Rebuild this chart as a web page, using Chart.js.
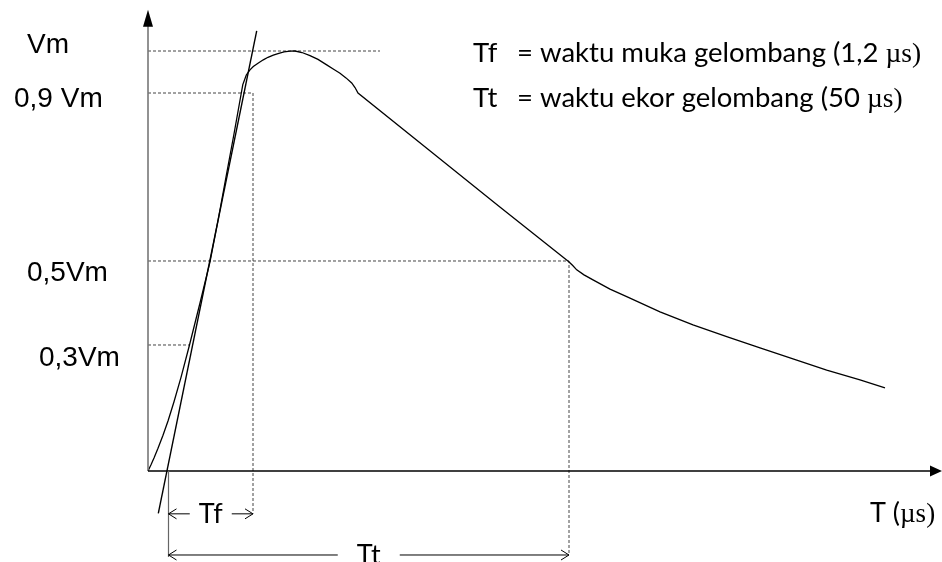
<!DOCTYPE html>
<html>
<head>
<meta charset="utf-8">
<script src="https://cdn.jsdelivr.net/npm/chart.js@4.4.1/dist/chart.umd.min.js"></script>
<style>
  body { margin: 0; background: #fff; }
  canvas { display: block; }
</style>
</head>
<body>
<canvas id="chartImpulse" width="942" height="562"></canvas>
<script>
// Bentuk gelombang impuls (sumbu waktu skematis, tegangan dalam satuan Vm)
const waveT = [0, 0.3, 0.6, 1.0, 1.5, 2.0, 2.6, 3.3, 4.15, 5.2, 6.2, 7.03, 7.8, 8.58, 9.33, 9.48, 9.83,
    10.2, 10.53, 11.0, 11.53, 12.0, 12.53, 13.0, 13.6, 14.2, 14.7, 15.4, 16.2, 17.0, 17.87, 18.6,
    19.2, 19.8, 20.37, 20.7, 21.0, 28.0, 35.0, 42.05,
    42.45, 42.87, 43.6, 44.5, 46.2, 47.87, 51.2, 54.5, 57.87, 61.2, 64.5, 67.87, 71.2, 73.7];
const waveV = [0, 0.015, 0.031, 0.054, 0.085, 0.119, 0.165, 0.223, 0.300, 0.400, 0.498, 0.600, 0.700, 0.800, 0.900, 0.920, 0.943,
    0.955, 0.963, 0.971, 0.979, 0.985, 0.990, 0.994, 0.998, 0.9995, 1.000, 0.9964, 0.989, 0.980, 0.967, 0.956,
    0.947, 0.936, 0.924, 0.913, 0.900, 0.766, 0.632, 0.499,
    0.490, 0.479, 0.467, 0.455, 0.433, 0.415, 0.379, 0.348, 0.320, 0.293, 0.267, 0.240, 0.217, 0.198];

// Garis singgung muka gelombang
const tangentT = [1.03, 10.87];
const tangentV = [-0.101, 1.048];

// Level tegangan acuan
const levels = [1.0, 0.9, 0.5, 0.3];
const levelLabels = ["Vm", "0,9 Vm", "0,5Vm", "0,3Vm"];
const levelEndT = [23.2, 10.5, 42.1, 4.15];

// Titik waktu untuk Tf dan Tt
const tfStartT = 2.05;
const tfEndT = 10.5;
const ttEndT = 42.1;
const tfLevel = -0.102;
const ttLevel = -0.200;

const legendLines = [
    ["Tf", "= waktu muka gelombang (1,2 ", "\u00b5s)"],
    ["Tt", "= waktu ekor gelombang (50 ", "\u00b5s)"]
];

// batas sumbu (panah)
const axisTopV = 1.098;
const axisRightT = 79.4;

function pts(ts, vs) {
    return ts.map((t, i) => ({ x: t, y: vs[i] }));
}

const dashed = {
    borderColor: "#444",
    borderWidth: 1,
    borderDash: [3, 2],
    showLine: true,
    pointRadius: 0,
    tension: 0
};

const refSets = levels.map((v, i) => {
    const data = [{ x: 0, y: v }, { x: levelEndT[i], y: v }];
    if (i === 1) data.push({ x: levelEndT[i], y: tfLevel });
    if (i === 2) data.push({ x: levelEndT[i], y: ttLevel });
    return Object.assign({ label: levelLabels[i], data }, dashed);
});

function line(ctx, x1, y1, x2, y2) {
    ctx.beginPath();
    ctx.moveTo(x1, y1);
    ctx.lineTo(x2, y2);
    ctx.stroke();
}

function openHead(ctx, x, y, dir) {
    ctx.beginPath();
    ctx.moveTo(x - dir * 8, y - 5);
    ctx.lineTo(x, y);
    ctx.lineTo(x - dir * 8, y + 5);
    ctx.stroke();
}

const sketchPlugin = {
    id: "sketch",
    afterDatasetsDraw(chart) {
        const { ctx, scales: { x, y } } = chart;
        const X = t => x.getPixelForValue(t);
        const Y = v => y.getPixelForValue(v);
        const x0 = X(0), y0 = Y(0);

        ctx.save();

        // sumbu tegak
        ctx.strokeStyle = "#777";
        ctx.lineWidth = 1.6;
        line(ctx, x0, y0, x0, Y(axisTopV) + 12);
        ctx.fillStyle = "#000";
        ctx.beginPath();
        ctx.moveTo(x0, Y(axisTopV));
        ctx.lineTo(x0 - 5, Y(axisTopV) + 17);
        ctx.lineTo(x0 + 5, Y(axisTopV) + 17);
        ctx.closePath();
        ctx.fill();

        // sumbu datar
        ctx.strokeStyle = "#000";
        ctx.lineWidth = 1.4;
        line(ctx, x0, y0, X(axisRightT) - 8, y0);
        ctx.beginPath();
        ctx.moveTo(X(axisRightT), y0);
        ctx.lineTo(X(axisRightT) - 12, y0 - 5.5);
        ctx.lineTo(X(axisRightT) - 12, y0 + 5.5);
        ctx.closePath();
        ctx.fill();

        // garis batas kiri Tf / Tt
        ctx.strokeStyle = "#666";
        ctx.lineWidth = 1.2;
        line(ctx, X(tfStartT), y0, X(tfStartT), Y(ttLevel) + 2);

        // panah Tf
        ctx.strokeStyle = "#000";
        ctx.lineWidth = 1;
        const tfA = X(tfStartT), tfB = X(tfEndT), tfY = Y(tfLevel);
        const tfMid = (tfA + tfB) / 2;
        line(ctx, tfA, tfY, tfMid - 21, tfY);
        line(ctx, tfMid + 21, tfY, tfB, tfY);
        openHead(ctx, tfA, tfY, -1);
        openHead(ctx, tfB, tfY, 1);

        // panah Tt
        const ttB = X(ttEndT), ttY = Y(ttLevel);
        const ttMid = (tfA + ttB) / 2;
        line(ctx, tfA, ttY, ttMid - 31, ttY);
        line(ctx, ttMid + 31, ttY, ttB, ttY);
        openHead(ctx, tfA, ttY, -1);
        openHead(ctx, ttB, ttY, 1);

        ctx.fillStyle = "#000";
        ctx.textBaseline = "alphabetic";

        // label level tegangan
        const labelLeft = [27, 14, 27, 39];
        const labelDrop = [2, 14, 20, 21];
        ctx.font = "28px 'Liberation Sans', Arial, sans-serif";
        ctx.textAlign = "left";
        levels.forEach((v, i) => {
            ctx.fillText(levelLabels[i], labelLeft[i], Y(v) + labelDrop[i]);
        });

        // label Tf, Tt di bawah
        ctx.font = "27px Lato, sans-serif";
        ctx.textAlign = "center";
        ctx.fillText("Tf", tfMid, tfY + 9);
        ctx.fillText("Tt", ttMid, ttY + 9);

        // label sumbu waktu
        ctx.textAlign = "left";
        ctx.font = "27px Lato, sans-serif";
        const tx = 870, ty = y0 + 51;
        ctx.fillText("T (", tx, ty);
        const w1 = ctx.measureText("T (").width;
        ctx.font = "27px 'Liberation Serif', serif";
        ctx.fillText("\u00b5s)", tx + w1, ty);

        // keterangan
        const legBase = [62, 107];
        legendLines.forEach((ln, i) => {
            ctx.font = "27.5px Lato, sans-serif";
            ctx.fillText(ln[0], 473, legBase[i]);
            ctx.fillText(ln[1], 517, legBase[i]);
            const w = ctx.measureText(ln[1]).width;
            ctx.font = "27.5px 'Liberation Serif', serif";
            ctx.fillText(ln[2], 517 + w, legBase[i]);
        });

        ctx.restore();
    }
};

new Chart(document.getElementById("chartImpulse"), {
    type: "scatter",
    data: {
        datasets: [
            {
                label: "gelombang",
                data: pts(waveT, waveV),
                showLine: true,
                borderColor: "#000",
                borderWidth: 1.3,
                pointRadius: 0,
                tension: 0
            },
            {
                label: "singgung",
                data: pts(tangentT, tangentV),
                showLine: true,
                borderColor: "#000",
                borderWidth: 1.4,
                pointRadius: 0
            },
            ...refSets
        ]
    },
    options: {
        responsive: false,
        animation: false,
        devicePixelRatio: 1,
        layout: { padding: 0 },
        plugins: {
            legend: { display: false },
            tooltip: { enabled: false }
        },
        scales: {
            x: { type: "linear", min: -14.8, max: 79.4, display: false },
            y: { type: "linear", min: -0.21667, max: 1.12143, display: false }
        }
    },
    plugins: [sketchPlugin]
});
</script>
</body>
</html>
